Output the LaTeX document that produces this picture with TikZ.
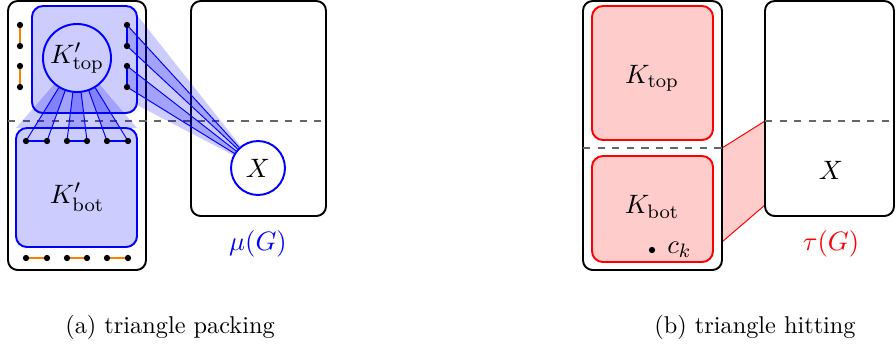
\documentclass[tikz,border=0pt]{standalone}
\usetikzlibrary{positioning}
\pgfdeclarelayer{back}
\pgfdeclarelayer{fans}
\pgfsetlayers{back,fans,main}
\tikzset{
    % Colors
    pack color/.style={blue},
    hit color/.style={red},
    %
    % Boxes
    part box/.style={black,thick,rounded corners=4pt},
    pack box/.style={pack color,thick,fill=blue!20,rounded corners=4.5pt},
    hit box/.style={hit color,thick,fill=red!20,rounded corners=4.5pt},
    cut line/.style={dashed,black!60,line width=.6pt},
    pack circle/.style={circle,draw,pack color,thick,fill=blue!20,text=black,inner sep=0pt,minimum size=28pt},
    %
    % Nodes and points
    invisible point/.style={circle,inner sep=0pt,outer sep=0pt,minimum size=0pt},
    point/.style={invisible point,fill=black,minimum size=2.6pt},
    label text/.style={font=\fontsize{10.95}{13}\selectfont},
    %
    % Edges and fans
    pack edge/.style={pack color,line width=1.2pt},
    free edge/.style={orange,line width=1.2pt},
    fan line/.style={pack color,thin},
    fan fill/.style={pack color,opacity=.2},
    hit line/.style={hit color,thin}
}

\begin{document}
\begin{tikzpicture}[x=0.4115pt,y=-0.4115pt]
    \useasboundingbox (0,0) rectangle (896,351);

    % (a) triangle packing
    \begin{pgfonlayer}{back}
        \draw[part box] (8,1) rectangle (146,270) (191,1) rectangle (326,216);
        \draw[pack box] (32,6) rectangle (137,113);
        \draw[cut line] (8,121) -- (326,121);
    \end{pgfonlayer}
    \draw[pack box] (16,128) rectangle (137,247);

    \foreach \i/\x/\y in {1/20/25,2/20/46,3/20/66,4/20/87}{
        \coordinate (l\i) at (\x,\y);
        \coordinate (r\i) at (127,\y);
    }
    \foreach \i/\x in {1/26,2/47,3/67,4/87,5/107,6/128}{
        \coordinate (b\i) at (\x,141);
        \coordinate (o\i) at (\x,258);
    }
    \coordinate (e1) at (137,15);
    \coordinate (e2) at (137,105);
    \coordinate (e3) at (16,128);
    \coordinate (e4) at (137,128);

    \node[pack circle,label text] (ktop) at (77,58) {$K'_{\mathrm{top}}$};
    \node[pack circle,label text,fill=white,minimum size=22.2pt] (xa) at (258,168) {$X$};
    \node[label text] (kbot) at (77,197) {$K'_{\mathrm{bot}}$};
    \node[label text,pack color] (mu) at (258,244) {$\mu(G)$};

    \begin{pgfonlayer}{fans}
        \fill[fan fill] (ktop.center) -- (e3) -- (e4) -- cycle;
        \fill[fan fill] (xa.center) -- (e1) -- (e2) -- cycle;
        \foreach \u/\v in {b1/b2,b3/b4,b5/b6}
            \fill[fan fill] (ktop.center) -- (\u) -- (\v) -- cycle;
        \foreach \u/\v in {r1/r2,r3/r4}
            \fill[fan fill] (xa.center) -- (\u) -- (\v) -- cycle;
    \end{pgfonlayer}
    \foreach \i in {1,...,6} \draw[fan line] (ktop) -- (b\i);
    \foreach \i in {1,...,4} \draw[fan line] (xa) -- (r\i);

    \foreach \u/\v in {b1/b2,b3/b4,b5/b6,r1/r2,r3/r4} \draw[pack edge] (\u) -- (\v);
    \foreach \u/\v in {o1/o2,o3/o4,o5/o6,l1/l2,l3/l4} \draw[free edge] (\u) -- (\v);
    \foreach \v in {l1,l2,l3,l4,r1,r2,r3,r4,b1,b2,b3,b4,b5,b6,o1,o2,o3,o4,o5,o6}
        \fill (\v) circle[radius=1.3pt];

    \node (capa) at (170,327) {(a) triangle packing};

    % (b) triangle hitting
    \coordinate (p1) at (722,148);
    \coordinate (p2) at (722,242);
    \coordinate (q1) at (765,121);
    \coordinate (q2) at (765,205);
    \fill[red!20] (p1) -- (q1) -- (q2) -- (p2) -- cycle;
    \draw[hit line] (p1) -- (q1) (p2) -- (q2);

    \draw[part box] (583,1) rectangle (722,270) (765,1) rectangle (894,216);
    \draw[cut line] (583,148) -- (722,148) (765,121) -- (895,121);
    \draw[hit box] (592,6) rectangle (713,140);
    \draw[hit box] (592,156) rectangle (713,262);

    \node[label text] (ktopb) at (652,78) {$K_{\mathrm{top}}$};
    \node[label text] (kbotb) at (652,207) {$K_{\mathrm{bot}}$};
    \node[point] (ck) at (652,250) {};
    \node[label text,right=1.5pt of ck] (cklabel) {$c_k$};
    \node[label text] (xb) at (831,170) {$X$};
    \node[label text,hit color] (tau) at (831,244) {$\tau(G)$};

    \node (capb) at (755,327) {(b) triangle hitting};
\end{tikzpicture}
\end{document}
